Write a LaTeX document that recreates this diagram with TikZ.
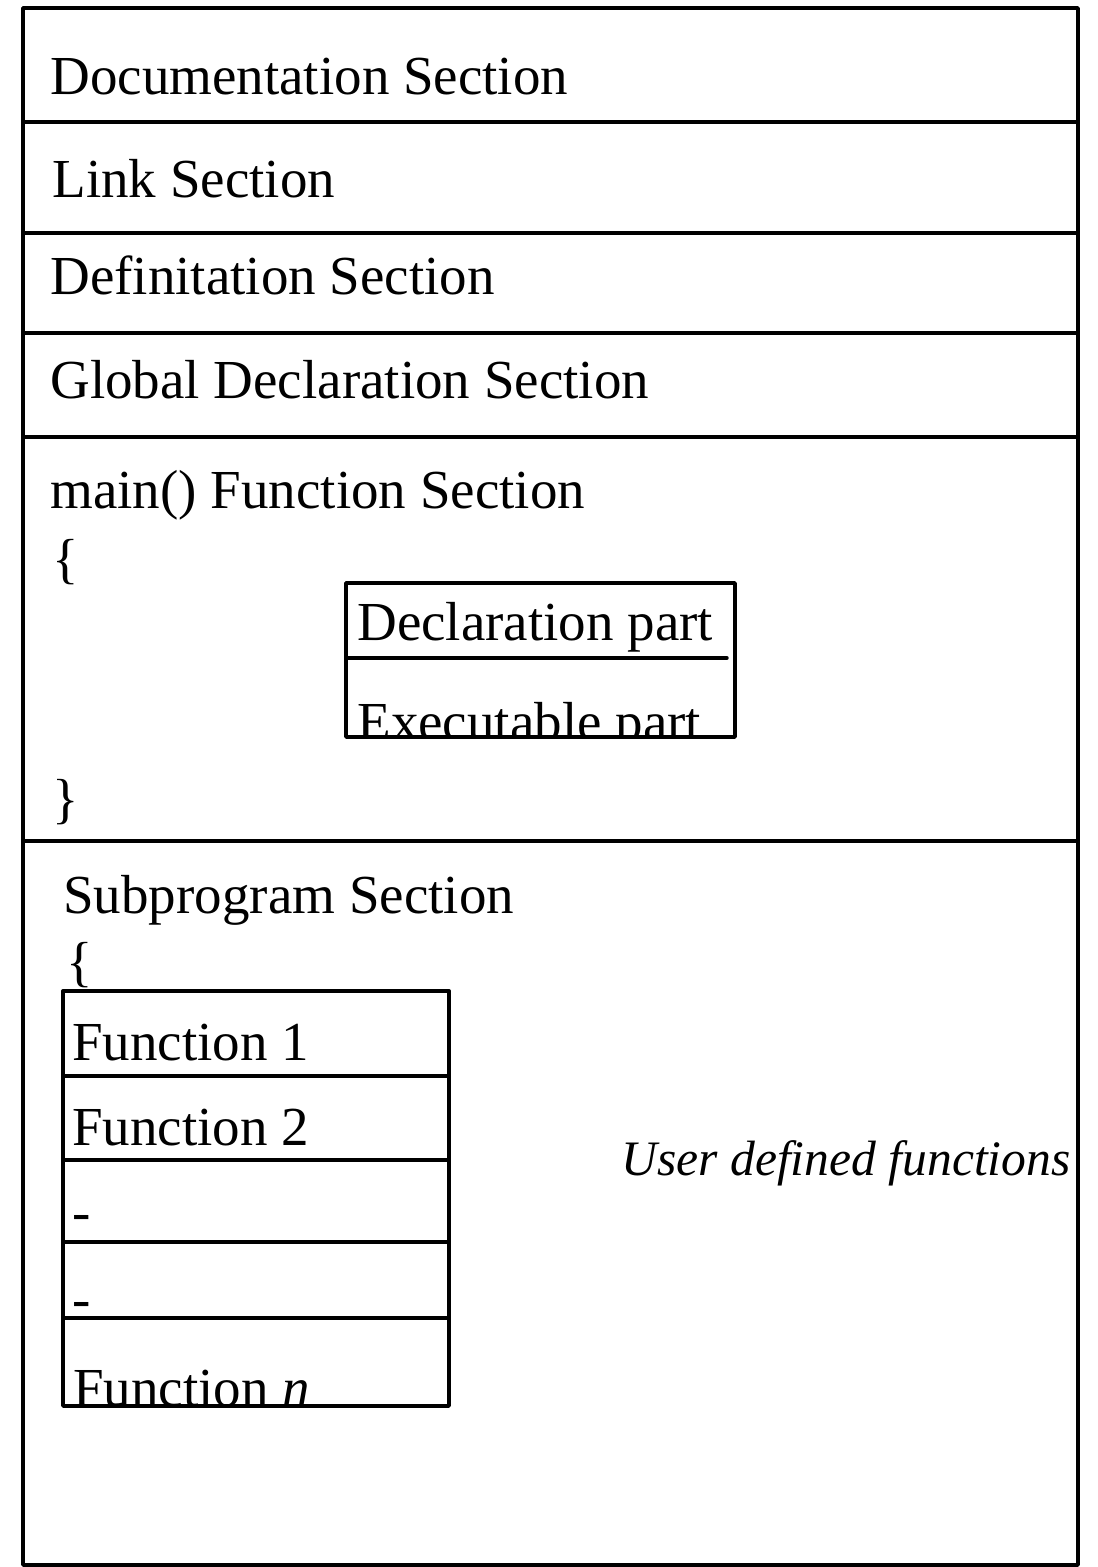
\documentclass[tikz,border=0pt]{standalone}
\usepackage{fontspec}
\setmainfont{Liberation Serif}
\begin{document}
\begin{tikzpicture}[x=0.5pt, y=-0.5pt]
% Structure of a C program, coordinates in pixels of the original figure
\providecommand{\progLineWidth}{1.7pt}
\providecommand{\progLineColor}{black}
\providecommand{\progTextSize}{\fontsize{27.5}{33}\selectfont}
\tikzset{
  seclabel/.style={anchor=base west, inner sep=0pt, font=\progTextSize},
  sidenote/.style={anchor=base west, inner sep=0pt, font=\fontsize{24.8}{30}\selectfont\itshape},
}
\useasboundingbox (0,0) rectangle (1097,1567);
\begin{scope}[draw=\progLineColor, line width=\progLineWidth, line cap=round, line join=round]
  % Outer frame
  \draw (23,8) rectangle (1078,1565);
  % Section separators
  \draw (23,122) -- (1078,122);
  \draw (23,233) -- (1078,233);
  \draw (23,333) -- (1078,333);
  \draw (23,437) -- (1078,437);
  \draw (23,841) -- (1078,841);
  % Box inside main()
  \draw (346,583) rectangle (735,737);
  \draw (346,658) -- (727,658);
  % Box of user defined functions
  \draw (63,991) rectangle (449,1406);
  \draw (63,1076) -- (449,1076);
  \draw (63,1160) -- (449,1160);
  \draw (63,1242) -- (449,1242);
  \draw (63,1318) -- (449,1318);
\end{scope}
% Section titles
\node[seclabel] (doc) at (50,95) {Documentation Section};
\node[seclabel] (link) at (52,198) {Link Section};
\node[seclabel] (defn) at (50,295) {Definitation Section};
\node[seclabel] (global) at (50,398) {Global Declaration Section};
% main() section
\node[seclabel] (mainsec) at (50,508) {main() Function Section};
\node[seclabel] (mainopen) at (52,577) {\{};
\node[seclabel] (declpart) at (357,640) {Declaration part};
\begin{scope}
  \clip (348,660) rectangle (733,735);
  \node[seclabel] (execpart) at (357,740) {Executable part};
\end{scope}
\node[seclabel] (mainclose) at (52,817) {\}};
% Subprogram section
\node[seclabel] (subsec) at (63,913) {Subprogram Section};
\node[seclabel] (subopen) at (66,980) {\{};
\node[seclabel] (fone) at (72,1060) {Function 1};
\node[seclabel] (ftwo) at (72,1145) {Function 2};
\node[seclabel] (fdotsa) at (72,1230) {-};
\node[seclabel] (fdotsb) at (72,1317) {-};
\begin{scope}
  \clip (65,1320) rectangle (447,1403);
  \node[seclabel] (fn) at (73,1406) {Function \textit{n}};
\end{scope}
\node[sidenote] (userfn) at (621,1175) {User defined functions};
\end{tikzpicture}
\end{document}
